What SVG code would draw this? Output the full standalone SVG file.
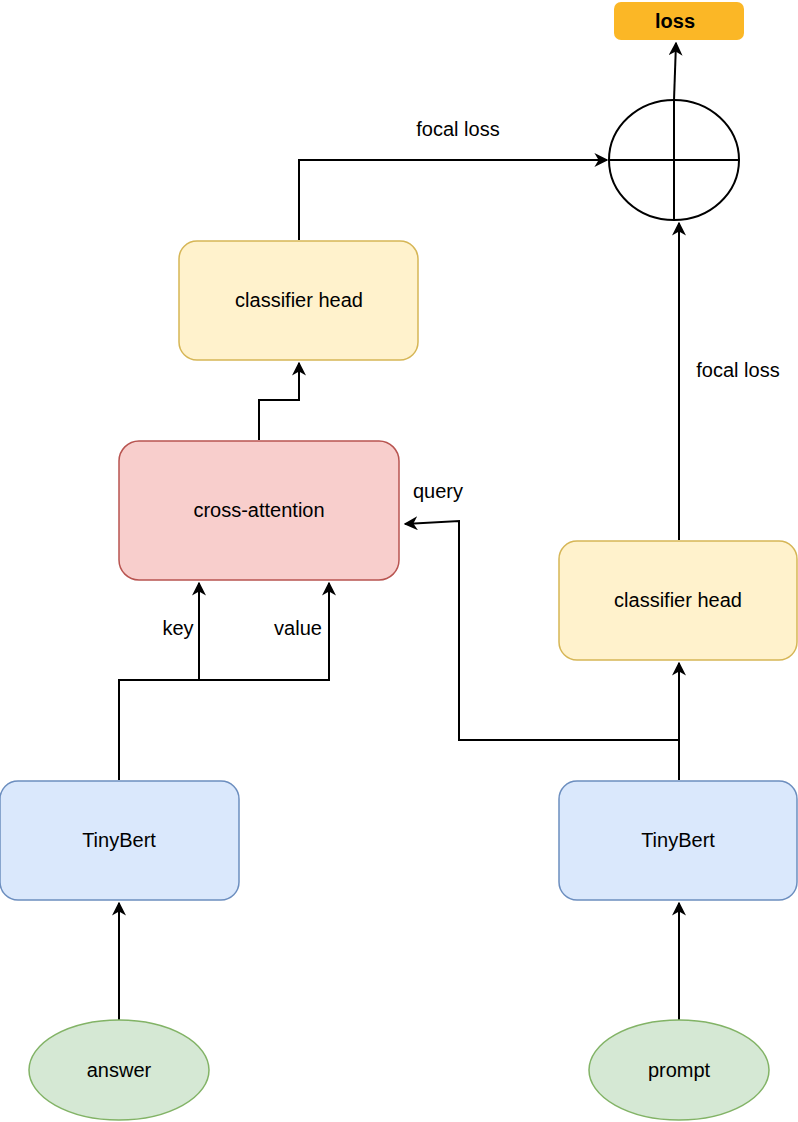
<svg xmlns="http://www.w3.org/2000/svg" width="798" height="1122" viewBox="0 0 798 1122">
<defs>
<style>
text{font-family:"Liberation Sans",Arial,sans-serif;font-size:20px;fill:#000;text-anchor:middle;dominant-baseline:central}
.e{fill:none;stroke:#000;stroke-width:2}
</style>
<marker id="a" viewBox="0 0 10 10" refX="9" refY="5" markerWidth="7" markerHeight="7" orient="auto"><path d="M0,0 L10,5 L0,10 L3,5 Z" fill="#000"/></marker>
</defs>
<rect width="798" height="1122" fill="#fff"/>
<g id="connectors" class="e">
<path d="M119,1020 V903" marker-end="url(#a)"/>
<path d="M679,1020 V903" marker-end="url(#a)"/>
<path d="M119,780 V680 H329 V583" marker-end="url(#a)"/>
<path d="M199,680 V583" marker-end="url(#a)"/>
<path d="M679,780 V663" marker-end="url(#a)"/>
<path d="M679,740 H459 V521 L405,524" marker-end="url(#a)"/>
<path d="M259,440 V400 H299 V363" marker-end="url(#a)"/>
<path d="M299,240 V160 H607" marker-end="url(#a)"/>
<path d="M679,540 V223" marker-end="url(#a)"/>
<path d="M674,100 L676,43" marker-end="url(#a)"/>
</g>
<g id="sum"><ellipse cx="674" cy="160" rx="65" ry="60" class="e"/><path d="M609,160 H739 M674,100 V220" class="e"/></g>
<g id="loss"><rect x="614" y="2" width="130" height="38" rx="7" fill="#fbb726"/><text x="675" y="21" font-weight="bold" font-size="22">loss</text></g>
<g id="ch1"><rect x="179" y="241" width="239" height="119" rx="18" fill="#fff2cc" stroke="#d6b656" stroke-width="1.5"/><text x="299" y="300">classifier head</text></g>
<g id="ca"><rect x="119" y="441" width="280" height="139" rx="20" fill="#f8cecc" stroke="#b85450" stroke-width="1.5"/><text x="259" y="510">cross-attention</text></g>
<g id="ch2"><rect x="559" y="541" width="238" height="119" rx="18" fill="#fff2cc" stroke="#d6b656" stroke-width="1.5"/><text x="678" y="600">classifier head</text></g>
<g id="tb1"><rect x="0" y="781" width="239" height="119" rx="18" fill="#dae8fc" stroke="#6c8ebf" stroke-width="1.5"/><text x="119" y="840">TinyBert</text></g>
<g id="tb2"><rect x="559" y="781" width="238" height="119" rx="18" fill="#dae8fc" stroke="#6c8ebf" stroke-width="1.5"/><text x="678" y="840">TinyBert</text></g>
<g id="answer"><ellipse cx="119" cy="1070" rx="90" ry="50" fill="#d5e8d4" stroke="#82b366" stroke-width="1.5"/><text x="119" y="1070">answer</text></g>
<g id="prompt"><ellipse cx="679" cy="1070" rx="90" ry="50" fill="#d5e8d4" stroke="#82b366" stroke-width="1.5"/><text x="679" y="1070">prompt</text></g>
<g id="labels">
<text x="458" y="129">focal loss</text>
<text x="738" y="370">focal loss</text>
<text x="438" y="491">query</text>
<text x="178" y="628">key</text>
<text x="298" y="628">value</text>
</g>
</svg>
